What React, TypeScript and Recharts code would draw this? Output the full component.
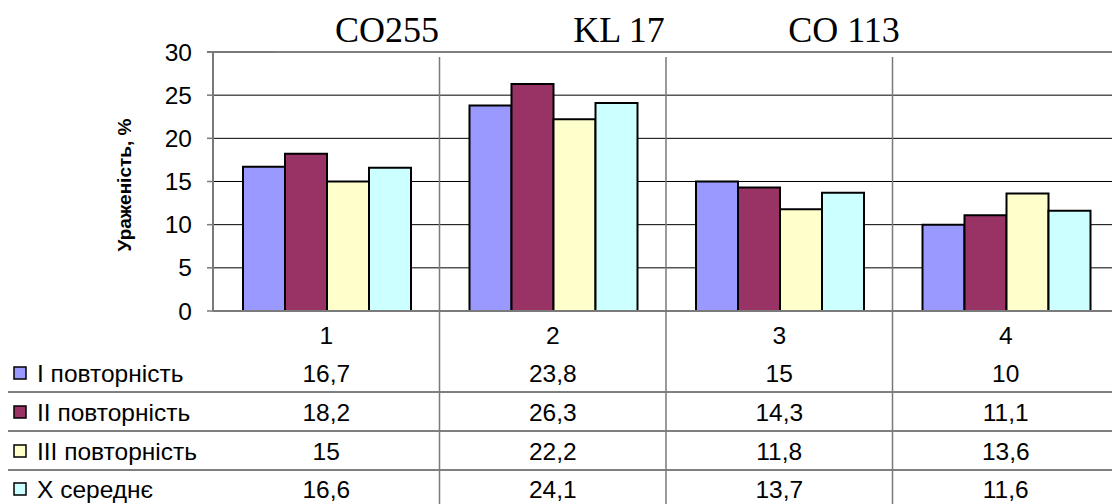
import React from 'react';
import { BarChart, Bar, XAxis, YAxis, CartesianGrid } from 'recharts';

const categories = ['1', '2', '3', '4'];
const seriesNames = ['I повторність', 'II повторність', 'III повторність', 'X середнє'];
const rep1 = [16.7, 23.8, 15, 10];
const rep2 = [18.2, 26.3, 14.3, 11.1];
const rep3 = [15, 22.2, 11.8, 13.6];
const avg = [16.6, 24.1, 13.7, 11.6];
const yTicks = [0, 5, 10, 15, 20, 25, 30];
const topLabels = ['CO255', 'KL 17', 'CO 113'];
const yLabel = 'Ураженість, %';

const colors = ['#9999FF', '#993366', '#FFFFCC', '#CCFFFF'];
const seriesValues = [rep1, rep2, rep3, avg];

const data = categories.map((c, i) => ({
  cat: c,
  s0: rep1[i],
  s1: rep2[i],
  s2: rep3[i],
  s3: avg[i],
}));

// layout
const CHART_W = 1140;
const CHART_H = 504;
const Y_AXIS_W = 213;
const PLOT_TOP = 52;
const X_AXIS_H = 193;
const RIGHT = 21;
const BAND = (CHART_W - Y_AXIS_W - RIGHT) / categories.length;
const LABEL_Y = 335;
const ROW_Y = [373, 412, 451, 489];
const ROW_LINES = [392, 431, 470];
const topLabelX = [387, 619, 844];
const FONT = 'Arial, "Liberation Sans", sans-serif';
const FS = 24.5;

const fmt = (v: number) => String(v).replace('.', ',');

function CatTick(props: any) {
  const { x, index } = props;
  const cat = categories[index];
  return (
    <g>
      {index > 0 && (
        <line x1={x - BAND / 2} x2={x - BAND / 2} y1={PLOT_TOP + 5} y2={CHART_H} stroke="#7a7a7a" strokeWidth={1.5} />
      )}
      {index === 0 && (
        <g>
          {ROW_LINES.map((ly) => (
            <line key={ly} x1={8} x2={CHART_W} y1={ly} y2={ly} stroke="#000" strokeWidth={1} />
          ))}
          {seriesNames.map((name, r) => (
            <g key={name}>
              <rect x={14} y={ROW_Y[r] - 6} width={12} height={12} fill={colors[r]} stroke="#000" strokeWidth={1.5} />
              <text x={37} y={ROW_Y[r]} dominantBaseline="central" fontSize={FS} fontFamily={FONT} fill="#000">
                {name}
              </text>
            </g>
          ))}
        </g>
      )}
      <text x={x} y={LABEL_Y} textAnchor="middle" dominantBaseline="central" fontSize={FS} fontFamily={FONT} fill="#000">
        {cat}
      </text>
      {seriesValues.map((vals, r) => (
        <text key={r} x={x} y={ROW_Y[r]} textAnchor="middle" dominantBaseline="central" fontSize={FS} fontFamily={FONT} fill="#000">
          {fmt(vals[index])}
        </text>
      ))}
    </g>
  );
}

function ValTick(props: any) {
  const { y, payload } = props;
  return (
    <g>
      {payload.value === 30 && (
        <line x1={Y_AXIS_W - 6} x2={Y_AXIS_W + 62} y1={y} y2={y} stroke="#7a7a7a" strokeWidth={2} />
      )}
      <text x={Y_AXIS_W - 21} y={y} textAnchor="end" dominantBaseline="central" fontSize={FS} fontFamily={FONT} fill="#000">
        {payload.value}
      </text>
    </g>
  );
}

export default function App() {
  return (
    <div style={{ position: 'absolute', left: 0, top: 0, width: 1112, height: 504, overflow: 'hidden', background: '#fff' }}>
      <BarChart
        width={CHART_W}
        height={CHART_H}
        data={data}
        margin={{ top: PLOT_TOP, right: RIGHT, bottom: 0, left: 0 }}
        barGap={0}
        barCategoryGap={30}
      >
        <CartesianGrid vertical={false} stroke="#000" strokeWidth={1} strokeOpacity={1} />
        <XAxis
          dataKey="cat"
          height={X_AXIS_H}
          interval={0}
          tickLine={false}
          axisLine={{ stroke: '#7a7a7a', strokeWidth: 2 }}
          tick={(p: any) => <CatTick {...p} />}
        />
        <YAxis
          width={Y_AXIS_W}
          domain={[0, 30]}
          ticks={yTicks}
          interval={0}
          tickSize={6}
          tickLine={{ stroke: '#7a7a7a', strokeWidth: 1.5 }}
          axisLine={{ stroke: '#7a7a7a', strokeWidth: 2 }}
          tick={(p: any) => <ValTick {...p} />}
        />
        {seriesNames.map((name, i) => (
          <Bar
            key={name}
            dataKey={`s${i}`}
            name={name}
            fill={colors[i]}
            stroke="#000"
            strokeWidth={2}
            isAnimationActive={false}
          />
        ))}
      </BarChart>
      {topLabels.map((t, i) => (
        <div
          key={t}
          style={{
            position: 'absolute',
            left: topLabelX[i] - 100,
            width: 200,
            top: 10,
            textAlign: 'center',
            fontFamily: '"Times New Roman", "Liberation Serif", serif',
            fontSize: 36,
            lineHeight: '40px',
            color: '#000',
          }}
        >
          {t}
        </div>
      ))}
      <div
        style={{
          position: 'absolute',
          left: 125 - 100,
          top: 185 - 12,
          width: 200,
          height: 24,
          lineHeight: '24px',
          textAlign: 'center',
          transform: 'rotate(-90deg)',
          fontFamily: FONT,
          fontWeight: 'bold',
          fontSize: 19,
          color: '#000',
        }}
      >
        {yLabel}
      </div>
    </div>
  );
}
